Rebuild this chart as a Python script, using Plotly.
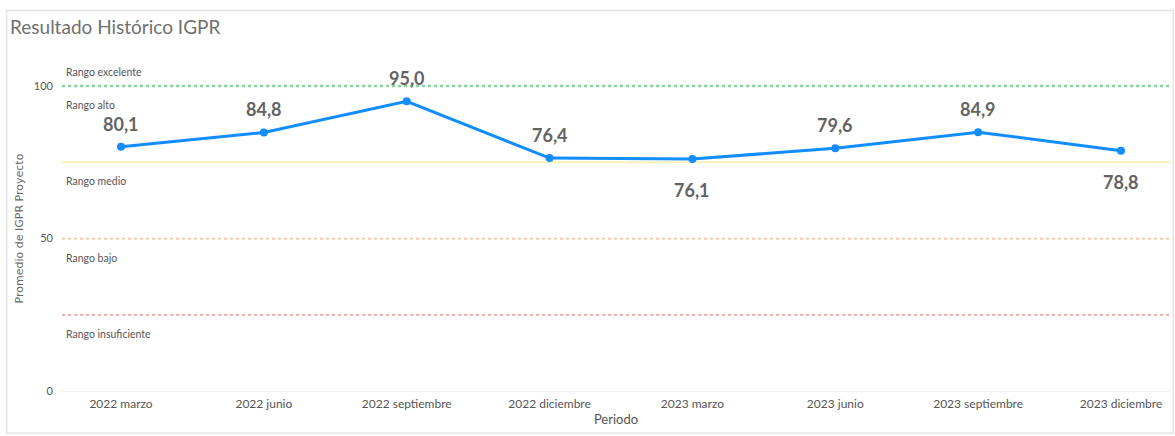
import plotly.graph_objects as go

periodos = ["2022 marzo", "2022 junio", "2022 septiembre", "2022 diciembre",
            "2023 marzo", "2023 junio", "2023 septiembre", "2023 diciembre"]
igpr = [80.1, 84.8, 95.0, 76.4, 76.1, 79.6, 84.9, 78.8]
label_arriba = [True, True, True, True, False, True, True, False]

rango_niveles = [100, 75, 50, 25]
rango_colores = ["#86d59a", "#f6f2b8", "#f6c2a4", "#f2a3a3"]
rango_estilos = ["dot", "solid", "dot", "dot"]
rango_anchos = [2.5, 2, 1.8, 1.8]

rango_textos = ["Rango excelente", "Rango alto", "Rango medio", "Rango bajo", "Rango insuficiente"]
rango_texto_y = [100, 100, 75, 50, 25]
rango_texto_arriba = [True, False, False, False, False]

y_ticks = [0, 50, 100]

fig = go.Figure()
fig.add_trace(go.Scatter(
    x=list(range(len(periodos))), y=igpr,
    mode="lines+markers",
    line=dict(color="#118DFF", width=3),
    marker=dict(color="#118DFF", size=8),
    hoverinfo="skip",
))

shapes = []
for lvl, col, dash, w in zip(rango_niveles, rango_colores, rango_estilos, rango_anchos):
    shapes.append(dict(type="line", xref="paper", yref="y", x0=0, x1=1, y0=lvl, y1=lvl,
                       line=dict(color=col, width=w, dash=dash), layer="below"))
# card border
shapes.append(dict(type="rect", xref="paper", yref="paper",
                   x0=-0.05, x1=1.003, y0=-0.115, y1=1.155,
                   line=dict(color="#e4e4e4", width=1.5), layer="below"))

annotations = []
for i, (v, up) in enumerate(zip(igpr, label_arriba)):
    annotations.append(dict(
        x=i, xref="x", y=v, yref="y", text=f"{v:.1f}".replace(".", ","), showarrow=False,
        xanchor="center", yanchor="bottom" if up else "top",
        yshift=10 if up else -18,
        font=dict(family="Lato, Open Sans, sans-serif", size=18, color="#636363", weight="bold"),
    ))
for txt, yv, up in zip(rango_textos, rango_texto_y, rango_texto_arriba):
    annotations.append(dict(
        x=0.002, xref="paper", y=yv, yref="y", text=txt, showarrow=False,
        xanchor="left", yanchor="bottom" if up else "top",
        yshift=6 if up else -11,
        font=dict(family="Lato, sans-serif", size=10.5, color="#555555"),
    ))

fig.update_layout(
    width=1175, height=436,
    margin=dict(l=62, r=5, t=62, b=41),
    paper_bgcolor="white", plot_bgcolor="white",
    separators=",.",
    showlegend=False,
    title=dict(text="Resultado Histórico IGPR", x=10 / 1175, xref="container", xanchor="left",
               y=1 - 27 / 436, yref="container", yanchor="middle",
               font=dict(family="Lato, Open Sans, sans-serif", size=19, color="#707070")),
    shapes=shapes,
    annotations=annotations,
    xaxis=dict(
        tickmode="array", tickvals=list(range(len(periodos))), ticktext=periodos,
        range=[-0.413, 7.343], showgrid=False, zeroline=False, showline=False,
        tickfont=dict(family="Lato, sans-serif", size=12, color="#555555"),
        title=dict(text="Periodo", standoff=4,
                   font=dict(family="Lato, Open Sans, sans-serif", size=13, color="#555555")),
    ),
    yaxis=dict(
        tickmode="array", tickvals=y_ticks, range=[-1.3, 107.9],
        showgrid=False, zeroline=True, zerolinecolor="#f0f0f0", zerolinewidth=1, showline=False,
        tickfont=dict(family="Lato, sans-serif", size=11, color="#555555"),
        ticklabelstandoff=8,
        title=dict(text="Promedio de IGPR Proyecto", standoff=8,
                   font=dict(family="DejaVu Sans, sans-serif", size=11, color="#666666")),
    ),
)

fig.write_html("out.html", config={"displayModeBar": False},
               post_script="document.body.style.margin='0';document.body.style.padding='0';")
